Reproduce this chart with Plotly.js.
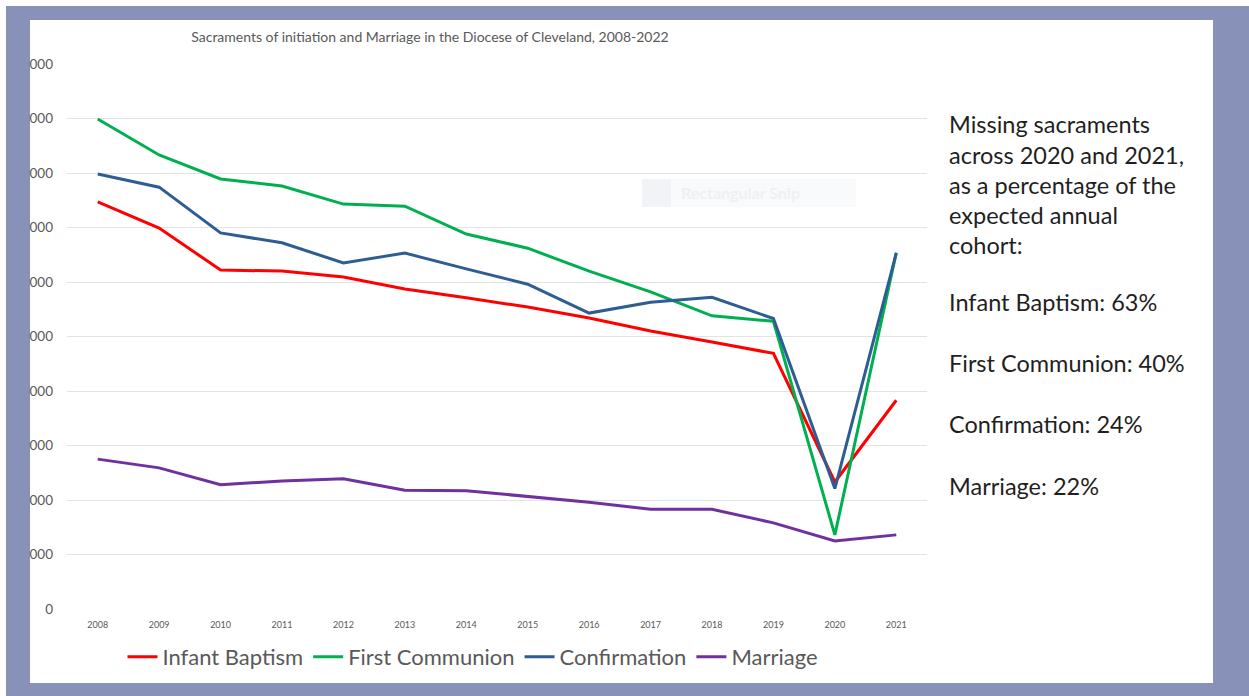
<!DOCTYPE html>
<html>
<head>
<meta charset="utf-8">
<script src="https://cdn.plot.ly/plotly-3.0.1.min.js"></script>
<style>
html,body{margin:0;padding:0;background:#fff;}
#chart{width:1249px;height:696px;}
</style>
</head>
<body>
<div id="chart"></div>
<script>
var years = [2008, 2009, 2010, 2011, 2012, 2013, 2014, 2015, 2016, 2017, 2018, 2019, 2020, 2021];
var infantBaptism = [7470, 6990, 6220, 6200, 6090, 5870, 5710, 5540, 5340, 5100, 4900, 4690, 2330, 3830];
var firstCommunion = [8990, 8330, 7890, 7760, 7430, 7390, 6880, 6620, 6200, 5820, 5380, 5280, 1360, 6540];
var confirmation = [7980, 7740, 6900, 6720, 6350, 6530, 6240, 5960, 5430, 5630, 5720, 5330, 2210, 6530];
var marriage = [2750, 2590, 2280, 2350, 2390, 2180, 2170, 2060, 1960, 1830, 1830, 1580, 1250, 1360];

var yTickVals = [0, 1000, 2000, 3000, 4000, 5000, 6000, 7000, 8000, 9000, 10000];
var yTickText = ['0', '000', '000', '000', '000', '000', '000', '000', '000', '000', '000'];
var xTickText = ['2008', '2009', '2010', '2011', '2012', '2013', '2014', '2015', '2016', '2017', '2018', '2019', '2020', '2021'];

var sideLines = [
  'Missing sacraments',
  'across 2020 and 2021,',
  'as a percentage of the',
  'expected annual',
  'cohort:',
  'Infant Baptism: 63%',
  'First Communion: 40%',
  'Confirmation: 24%',
  'Marriage: 22%'
];
var sideLineY = [124, 155, 185, 215, 245, 302, 363, 424, 486];

// plot area in pixels
var L = 67, R = 927, T = 64, B = 609;
function px(x){ return (x - L) / (R - L); }
function py(y){ return (B - y) / (B - T); }

var FONT = 'Lato, "Open Sans", sans-serif';
var GREY = '#595959';

var traces = [
  {name: 'Infant Baptism', y: infantBaptism, color: '#ff0000'},
  {name: 'First Communion', y: firstCommunion, color: '#00b050'},
  {name: 'Confirmation', y: confirmation, color: '#2e5d93'},
  {name: 'Marriage', y: marriage, color: '#7030a0'}
].map(function(s){
  return {
    type: 'scatter', mode: 'lines', x: years, y: s.y, name: s.name,
    line: {color: s.color, width: 3}, hoverinfo: 'x+y+name'
  };
});

var annotations = sideLines.map(function(t, i){
  return {
    xref: 'paper', yref: 'paper', x: px(947), y: py(sideLineY[i]),
    xanchor: 'left', yanchor: 'middle', showarrow: false, text: t,
    font: {family: FONT, size: 23.5, color: '#1f1f1f'}
  };
});
annotations.push({
  xref: 'paper', yref: 'paper', x: px(679), y: py(193),
  xanchor: 'left', yanchor: 'middle', showarrow: false, text: '<b>Rectangular Snip</b>',
  font: {family: FONT, size: 16, color: '#eef0f4'}
});

var shapes = [
  {type: 'rect', xref: 'paper', yref: 'paper', layer: 'below',
   x0: px(6), x1: px(1260), y0: py(710), y1: py(6),
   fillcolor: '#8891b8', line: {width: 0}},
  {type: 'rect', xref: 'paper', yref: 'paper', layer: 'below',
   x0: px(30), x1: px(1213), y0: py(683), y1: py(20),
   fillcolor: '#ffffff', line: {width: 0}},
  {type: 'rect', xref: 'paper', yref: 'paper', layer: 'below',
   x0: px(642), x1: px(856), y0: py(207), y1: py(179),
   fillcolor: '#f9fafc', line: {width: 0}},
  {type: 'rect', xref: 'paper', yref: 'paper', layer: 'below',
   x0: px(642), x1: px(671), y0: py(207), y1: py(179),
   fillcolor: '#f2f3f6', line: {width: 0}}
];

var layout = {
  width: 1249, height: 696,
  margin: {l: L, r: 1249 - R, t: T, b: 696 - B, pad: 0},
  paper_bgcolor: '#ffffff',
  plot_bgcolor: 'rgba(0,0,0,0)',
  font: {family: FONT, color: GREY},
  title: {
    text: 'Sacraments of initiation and Marriage in the Diocese of Cleveland, 2008-2022',
    font: {family: FONT, size: 14, color: GREY},
    xref: 'paper', x: px(430), xanchor: 'center',
    yref: 'container', y: 1 - 37 / 696, yanchor: 'middle'
  },
  xaxis: {
    range: [2007.5, 2021.5], tickmode: 'array', tickvals: years, ticktext: xTickText,
    showgrid: false, zeroline: false, showline: false, ticks: '',
    ticklabelstandoff: 9,
    tickfont: {family: FONT, size: 9, color: GREY}
  },
  yaxis: {
    range: [0, 10000], tickmode: 'array', tickvals: yTickVals, ticktext: yTickText,
    showgrid: true, gridcolor: '#e3e3e3', gridwidth: 1, zeroline: false, showline: false, ticks: '',
    ticklabelstandoff: 13,
    tickfont: {family: FONT, size: 13.5, color: GREY}
  },
  showlegend: true,
  legend: {
    orientation: 'h', xref: 'paper', yref: 'paper',
    x: px(473), xanchor: 'center', y: py(657), yanchor: 'middle',
    font: {family: FONT, size: 22, color: GREY},
    bgcolor: 'rgba(0,0,0,0)', itemwidth: 30, tracegroupgap: 0
  },
  annotations: annotations,
  shapes: shapes
};

Plotly.newPlot('chart', traces, layout, {displayModeBar: false, responsive: false});
</script>
</body>
</html>
